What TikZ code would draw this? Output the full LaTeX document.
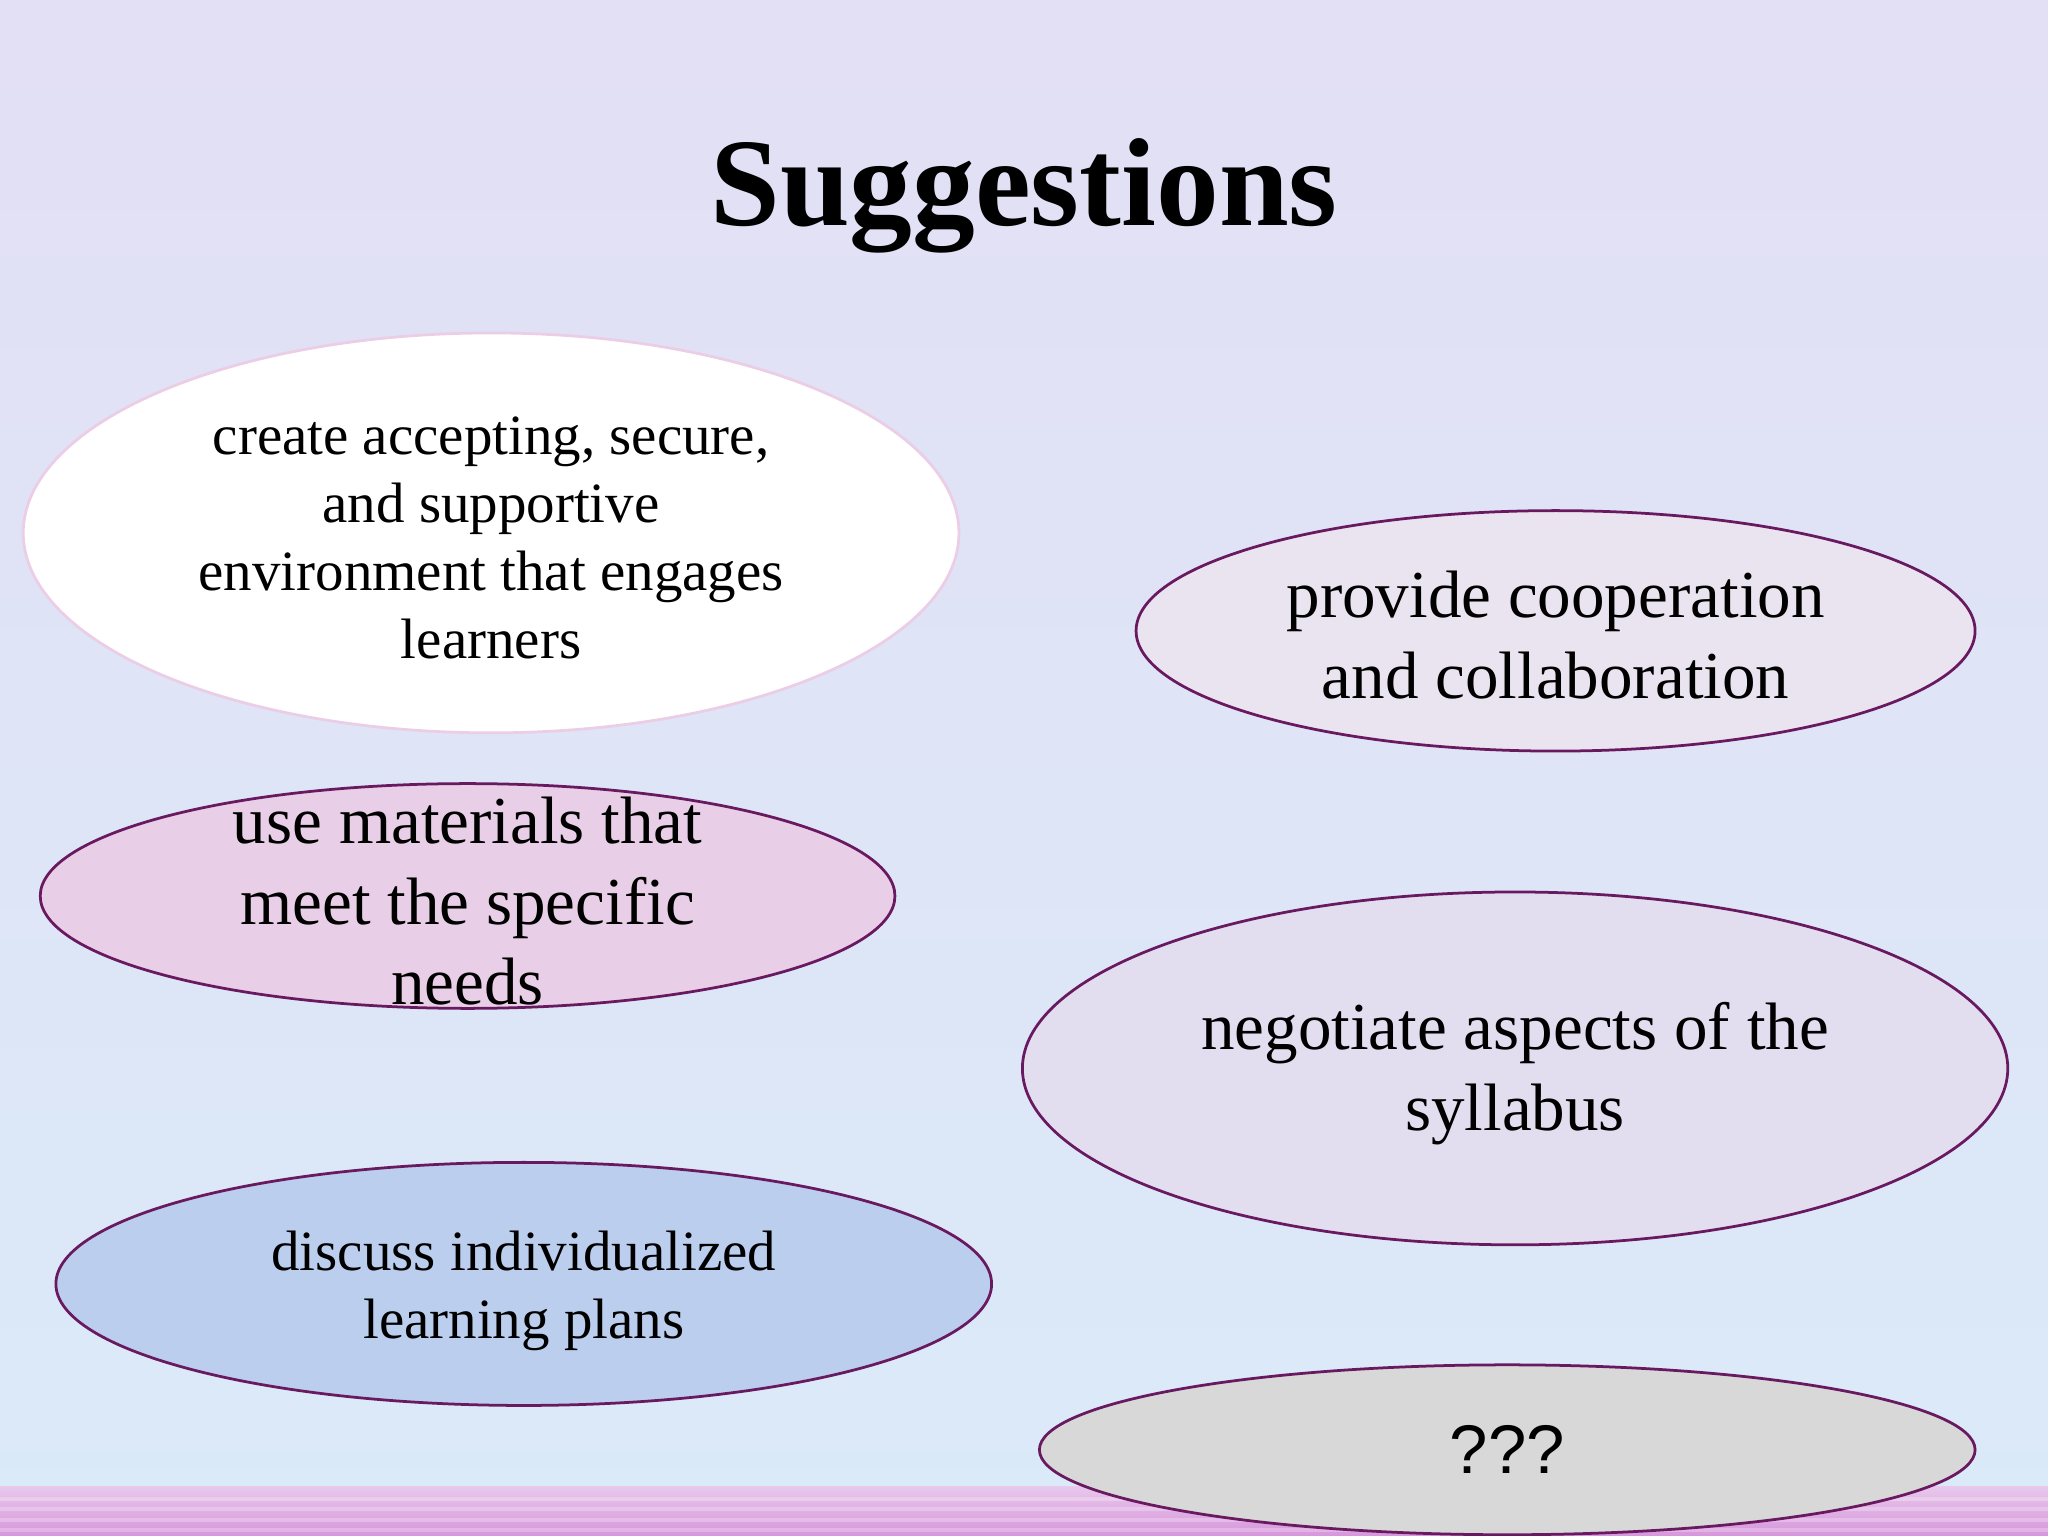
\documentclass[tikz,border=0pt]{standalone}
\usepackage{fontspec}
\setmainfont{Liberation Serif}
\newfontfamily\sansf{Liberation Sans}
\usetikzlibrary{shapes.geometric}
\definecolor{bgtop}{RGB}{227,223,245}
\definecolor{bgbot}{RGB}{218,234,248}
\definecolor{edge}{RGB}{105,25,95}
\definecolor{bandA}{RGB}{232,200,235}
\definecolor{bandB}{RGB}{215,150,220}
\tikzset{
  ell/.style={ellipse, draw=edge, line width=0.6pt, inner sep=0pt},
  t1/.style={align=center, font=\fontsize{12.4}{14.8}\selectfont},
  t2/.style={align=center, font=\fontsize{14.6}{17.6}\selectfont}
}
\begin{document}
\begin{tikzpicture}[x=0.01cm,y=-0.01cm]
\useasboundingbox (0,0) rectangle (1568,1176);
\shade[top color=bgtop, bottom color=bgbot] (0,0) rectangle (1568,1176);
\shade[top color=bandA, bottom color=bandB] (0,1138) rectangle (1568,1176);
\foreach \yy in {1146,1154,1162,1170}{\fill[white,opacity=0.25] (0,\yy) rectangle (1568,\yy+3);}
\node (title) at (784,150) {\fontsize{27.3}{32}\selectfont\bfseries Suggestions};
\node[ell, draw={rgb,255:red,235;green,205;blue,230}, fill=white, minimum width=7.16cm, minimum height=3.06cm] (e1) at (376,408) {};
\node[t1] (l1) at (376,412) {create accepting, secure,\\and supportive\\environment that engages\\learners};
\node[ell, fill={rgb,255:red,234;green,228;blue,240}, minimum width=6.42cm, minimum height=1.84cm] (e2) at (1191,483) {};
\node[t2] (l2) at (1191,486) {provide cooperation\\and collaboration};
\node[ell, fill={rgb,255:red,232;green,206;blue,230}, minimum width=6.54cm, minimum height=1.72cm] (e3) at (358,686) {};
\node[t2] (l3) at (358,690) {use materials that\\meet the specific\\needs};
\node[ell, fill={rgb,255:red,226;green,222;blue,240}, minimum width=7.54cm, minimum height=2.70cm] (e4) at (1160,818) {};
\node[t2] (l4) at (1160,822) {negotiate aspects of the\\syllabus};
\node[ell, fill={rgb,255:red,188;green,206;blue,238}, minimum width=7.16cm, minimum height=1.86cm] (e5) at (401,983) {};
\node[t1] (l5) at (401,988) {discuss individualized\\learning plans};
\node[ell, fill={rgb,255:red,216;green,216;blue,216}, minimum width=7.16cm, minimum height=1.30cm] (e6) at (1154,1110) {};
\node (l6) at (1154,1110) {\sansf\fontsize{15}{18}\selectfont ???};
\end{tikzpicture}
\end{document}
